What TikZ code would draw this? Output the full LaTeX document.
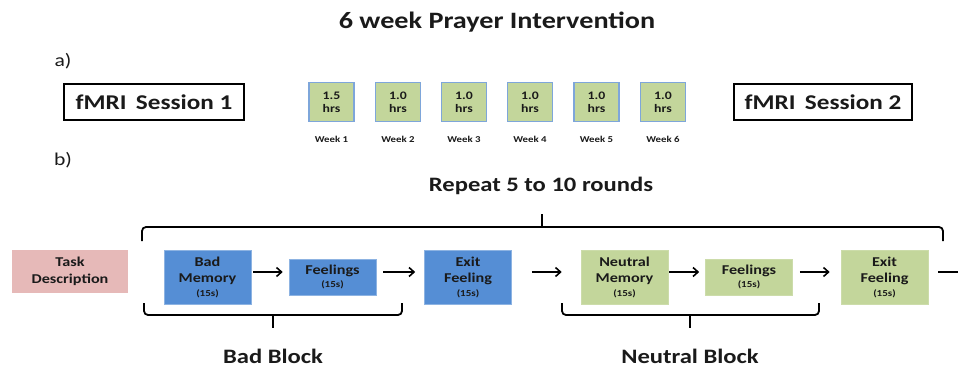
\documentclass[tikz,border=0pt]{standalone}
\usepackage{fontspec}
\setmainfont{Carlito}[FakeStretch=1.2]
\usetikzlibrary{arrows.meta}
\definecolor{wkgreen}{HTML}{C3D69B}
\definecolor{wkblue}{HTML}{7EA6DA}
\definecolor{bbox}{HTML}{558ED5}
\definecolor{bboxedge}{HTML}{8DB3E2}
\definecolor{pinkbox}{HTML}{E6B9B8}
\definecolor{gbox}{HTML}{C3D69B}
\definecolor{txt}{HTML}{1A1A1A}
\tikzset{
  fmri/.style={draw=black, line width=2pt, minimum width=180pt, minimum height=36pt, inner sep=0pt, font=\fontsize{21}{22}\selectfont\bfseries, text=txt},
  weekbox/.style={draw=wkblue, fill=wkgreen, line width=1.3pt, minimum width=45pt, minimum height=39pt, inner sep=0pt, align=center, font=\fontsize{11.5}{13}\selectfont\bfseries, text=txt},
  weeklab/.style={font=\fontsize{9}{10}\selectfont\bfseries, text=txt},
  bluebox/.style={draw=bboxedge, fill=bbox, line width=0.6pt, inner sep=0pt, align=center, minimum width=87pt, font=\fontsize{13.5}{16.5}\selectfont\bfseries, text=txt},
  greenbox/.style={draw=gbox!85!white, fill=gbox, line width=0.6pt, inner sep=0pt, align=center, minimum width=87pt, font=\fontsize{13.5}{16.5}\selectfont\bfseries, text=txt},
  tall/.style={minimum height=54pt},
  short/.style={minimum height=36pt},
  flow/.style={-{Straight Barb[length=5pt,width=9pt]}, line width=1.6pt, black},
  bracepath/.style={line width=1.8pt, black, rounded corners=4pt},
  biglab/.style={font=\fontsize{20.5}{22}\selectfont\bfseries, text=txt},
}
\newcommand{\secs}{{\fontsize{9.2}{10}\selectfont (15s)}}
\begin{document}
\begin{tikzpicture}[x=1pt,y=-1pt]
\useasboundingbox (0,0) rectangle (958,367);
% title
\node[font=\fontsize{23.5}{25}\selectfont\bfseries, text=txt] (title) at (497,22) {6 week Prayer Intervention};
\node[font=\fontsize{18}{20}\selectfont, text=txt] (la) at (63,61) {a)};
\node[font=\fontsize{18}{20}\selectfont, text=txt] (lb) at (63,160) {b)};
% part a
\node[fmri] (s1) at (154,102) {fMRI\hspace{0.45em}Session 1};
\node[fmri, minimum width=178pt] (s2) at (823,102) {fMRI\hspace{0.45em}Session 2};
\node[weekbox] (w1) at (331.5,102) {1.5\\hrs};
\node[weekbox] (w2) at (398,102) {1.0\\hrs};
\node[weekbox] (w3) at (464,102) {1.0\\hrs};
\node[weekbox] (w4) at (530,102) {1.0\\hrs};
\node[weekbox] (w5) at (596.5,102) {1.0\\hrs};
\node[weekbox] (w6) at (663,102) {1.0\\hrs};
\node[weeklab] (l1) at (331.5,139) {Week 1};
\node[weeklab] (l2) at (398,139) {Week 2};
\node[weeklab] (l3) at (464,139) {Week 3};
\node[weeklab] (l4) at (530,139) {Week 4};
\node[weeklab] (l5) at (596.5,139) {Week 5};
\node[weeklab] (l6) at (663,139) {Week 6};
% part b
\node[biglab] (rep) at (541,186) {Repeat 5 to 10 rounds};
\node[fill=pinkbox, minimum width=116pt, minimum height=43pt, inner sep=0pt, align=center, font=\fontsize{13.5}{16.5}\selectfont\bfseries, text=txt] (task) at (70,271.5) {Task\\Description};
\node[bluebox, tall] (bm) at (207.5,277) {Bad\\Memory\\[-3pt]\secs};
\node[bluebox, short] (fb) at (332.5,277) {Feelings\\[-3pt]\secs};
\node[bluebox, tall] (eb) at (468,277) {Exit\\Feeling\\[-3pt]\secs};
\node[greenbox, tall] (nm) at (624.5,277) {Neutral\\Memory\\[-3pt]\secs};
\node[greenbox, short] (fg) at (749,277) {Feelings\\[-3pt]\secs};
\node[greenbox, tall] (eg) at (884.5,277) {Exit\\Feeling\\[-3pt]\secs};
\coordinate (endc) at (958,272);
% arrows
\draw[flow, shorten <=2pt, shorten >=6pt] ([yshift=5pt]bm.east) -- ([yshift=5pt]fb.west);
\draw[flow, shorten <=7pt, shorten >=9pt] ([yshift=5pt]fb.east) -- ([yshift=5pt]eb.west);
\draw[flow, shorten <=20pt, shorten >=19pt] ([yshift=5pt]eb.east) -- ([yshift=5pt]nm.west);
\draw[flow, shorten <=1pt, shorten >=6pt] ([yshift=5pt]nm.east) -- ([yshift=5pt]fg.west);
\draw[flow, shorten <=7pt, shorten >=11pt] ([yshift=5pt]fg.east) -- ([yshift=5pt]eg.west);
\draw[line width=1.6pt, shorten <=10pt] ([yshift=5pt]eg.east) -- (endc);
% braces
\draw[bracepath] (142,241) -- (142,227) -- (943,227) -- (943,241);
\draw[line width=1.8pt] (542,227) -- (542,214);
\draw[bracepath] (144,303) -- (144,315) -- (402,315) -- (402,303);
\draw[line width=1.8pt] (273,315) -- (273,328);
\draw[bracepath] (562,303) -- (562,315) -- (819,315) -- (819,303);
\draw[line width=1.8pt] (690,315) -- (690,328);
\node[biglab, inner sep=0pt, anchor=base] (bb) at (273,363.5) {Bad Block};
\node[biglab, inner sep=0pt, anchor=base] (nb) at (690,363.5) {Neutral Block};
\end{tikzpicture}
\end{document}
